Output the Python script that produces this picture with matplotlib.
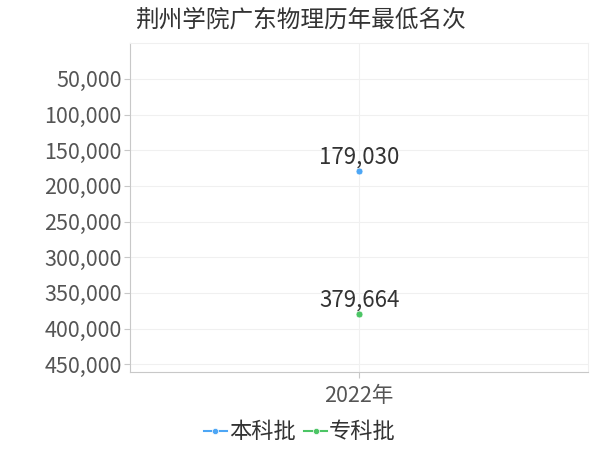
import matplotlib.pyplot as plt
from matplotlib.ticker import FuncFormatter

plt.rcParams['font.family'] = ['Noto Sans CJK SC', 'DejaVu Sans']

title = "荆州学院广东物理历年最低名次"
years = ["2022年"]
series_names = ["本科批", "专科批"]
series_values = [[179030], [379664]]
colors = ["#4da6f5", "#4cc565"]
y_ticks = [50000, 100000, 150000, 200000, 250000, 300000, 350000, 400000, 450000]

fig = plt.figure(figsize=(6, 4.5), dpi=100)
ax = fig.add_axes([0.217, 0.173, 0.763, 0.731])

x = list(range(len(years)))
for name, vals, c in zip(series_names, series_values, colors):
    ax.plot(x, vals, marker="o", markersize=5, color=c, linewidth=1.5, label=name,
            markeredgecolor="white", markeredgewidth=0.5)
    for xi, v in zip(x, vals):
        ax.annotate(f"{v:,}", (xi, v), xytext=(0, 2), textcoords="offset points",
                    ha="center", va="bottom", fontsize=16, color="#333333")

ax.set_xlim(-0.5, 0.5)
ax.set_ylim(461000, 0)
ax.set_yticks(y_ticks)
ax.yaxis.set_major_formatter(FuncFormatter(lambda v, p: f"{int(v):,}"))
ax.set_xticks(x)
ax.set_xticklabels(years)

ax.grid(True, color="#f0f0f0", linewidth=0.8)
ax.set_axisbelow(True)
for s in ["top", "right"]:
    ax.spines[s].set_color("#f0f0f0")
for s in ["left", "bottom"]:
    ax.spines[s].set_color("#c8c8c8")
ax.tick_params(axis="y", labelsize=15.5, colors="#555555", length=4, color="#c8c8c8", pad=2)
ax.tick_params(axis="x", labelsize=15.5, colors="#555555", length=4, color="#c8c8c8", pad=5)

fig.text(0.5, 0.955, title, ha="center", va="center", fontsize=17, color="#333333")
fig.legend(loc="center", bbox_to_anchor=(0.5, 0.04), ncol=2, frameon=False,
           fontsize=16, handlelength=1.0, handletextpad=0.1, columnspacing=0.4,
           labelcolor="#333333", markerscale=0.9)

fig.savefig("out.png", dpi=100)
